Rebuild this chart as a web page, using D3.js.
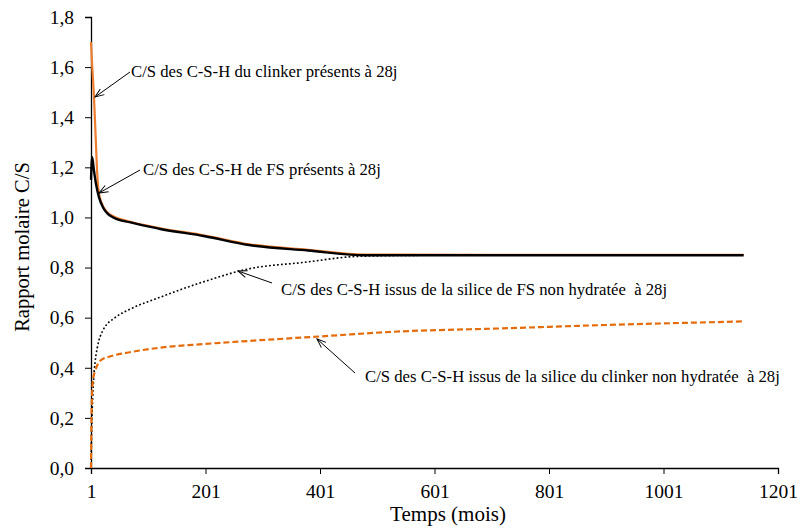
<!DOCTYPE html>
<html>
<head>
<meta charset="utf-8">
<script src="https://cdn.jsdelivr.net/npm/d3@7"></script>
</head>
<body style="margin:0;background:#fff">
<svg id="chart" width="800" height="529" style="display:block"></svg>
<script>
// ---------- data ----------
const xTicks = [1, 201, 401, 601, 801, 1001, 1201];
const yTicks = [0, 0.2, 0.4, 0.6, 0.8, 1.0, 1.2, 1.4, 1.6, 1.8];

// C/S des C-S-H du clinker présents à 28j (orange solid)
const clinkerMonths = [1, 3, 6, 9, 12, 15, 22, 30, 40, 70, 120, 200, 277, 380, 480, 700, 1000, 1141];
const clinkerCS     = [1.70, 1.61, 1.49, 1.33, 1.17, 1.095, 1.045, 1.02, 1.005, 0.983, 0.958, 0.928, 0.893, 0.871, 0.852, 0.851, 0.851, 0.851];

// C/S des C-S-H de FS présents à 28j (black solid)
const fsMonths = [1, 3, 6, 10, 15, 22, 30, 40, 70, 120, 200, 277, 380, 480, 700, 1000, 1141];
const fsCS     = [1.15, 1.24, 1.19, 1.13, 1.08, 1.04, 1.015, 1.0, 0.98, 0.955, 0.925, 0.89, 0.868, 0.849, 0.849, 0.849, 0.849];

// C/S des C-S-H issus de la silice de FS non hydratée à 28j (black dotted)
const fsSilMonths = [1, 2, 3, 5, 8, 12, 22, 43, 70, 120, 200, 277, 370, 471, 600, 800, 1000, 1141];
const fsSilCS     = [0, 0.14, 0.22, 0.33, 0.42, 0.48, 0.55, 0.60, 0.635, 0.68, 0.745, 0.795, 0.82, 0.845, 0.849, 0.849, 0.849, 0.849];

// C/S des C-S-H issus de la silice du clinker non hydratée à 28j (orange dashed)
const clkSilMonths = [1, 2, 3, 5, 8, 12, 18, 34, 64, 121, 200, 296, 400, 541, 716, 890, 1141];
const clkSilCS     = [0, 0.22, 0.30, 0.36, 0.385, 0.41, 0.43, 0.445, 0.46, 0.48, 0.495, 0.51, 0.525, 0.545, 0.557, 0.57, 0.585];

const annotations = [
  "C/S des C-S-H du clinker présents à 28j",
  "C/S des C-S-H de FS présents à 28j",
  "C/S des C-S-H issus de la silice de FS non hydratée  à 28j",
  "C/S des C-S-H issus de la silice du clinker non hydratée  à 28j"
];

// ---------- layout ----------
const FONT = '"Liberation Serif"';
const svg = d3.select("#chart");
const plotL = 91, plotR = 778, plotT = 17, plotB = 468;
const x = d3.scaleLinear().domain([1, 1201]).range([plotL, plotR]);
const y = d3.scaleLinear().domain([0, 1.8]).range([plotB, plotT]);
const fmt = v => d3.format(".1f")(v).replace(".", ",");

// axes
const xAxis = svg.append("g").attr("transform", `translate(0,${plotB})`)
  .call(d3.axisBottom(x).tickValues(xTicks).tickSize(6).tickPadding(10).tickFormat(d3.format("d")));
const yAxis = svg.append("g").attr("transform", `translate(${plotL},0)`)
  .call(d3.axisLeft(y).tickValues(yTicks).tickSize(6).tickPadding(11).tickFormat(fmt));
[xAxis, yAxis].forEach(g => {
  g.attr("font-family", null).attr("font-size", null);
  g.select(".domain").attr("stroke", "#000").attr("stroke-width", 1.3);
  g.selectAll(".tick line").attr("stroke", "#000").attr("stroke-width", 1);
  g.selectAll(".tick text").style("font-family", FONT).style("font-size", "19.5px").attr("fill", "#000");
});

// titles
svg.append("text").attr("x", 448).attr("y", 521).attr("text-anchor", "middle")
  .style("font-family", FONT).style("font-size", "21px").text("Temps (mois)");
svg.append("text").attr("transform", "translate(29,247) rotate(-90)").attr("text-anchor", "middle")
  .style("font-family", FONT).style("font-size", "20.5px").text("Rapport molaire C/S");

// lines
const lineGen = d3.line().x(d => x(d[0])).y(d => y(d[1])).curve(d3.curveMonotoneX);
const zip = (a, b) => a.map((m, i) => [m, b[i]]);

svg.append("path").datum(zip(clinkerMonths, clinkerCS)).attr("d", lineGen)
  .attr("fill", "none").attr("stroke", "#ED7D31").attr("stroke-width", 2.2);
svg.append("path").datum(zip(fsMonths, fsCS)).attr("d", lineGen)
  .attr("fill", "none").attr("stroke", "#000").attr("stroke-width", 2.4);
svg.append("path").datum(zip(fsSilMonths, fsSilCS)).attr("d", lineGen)
  .attr("fill", "none").attr("stroke", "#000").attr("stroke-width", 1.6).attr("stroke-dasharray", "1.8,2.2");
svg.append("path").datum(zip(clkSilMonths, clkSilCS)).attr("d", lineGen)
  .attr("fill", "none").attr("stroke", "#E46C0A").attr("stroke-width", 2.2).attr("stroke-dasharray", "6,3");

// arrow marker (open head)
svg.append("defs").append("marker").attr("id", "arr")
  .attr("viewBox", "-10 -5 12 10").attr("refX", 0).attr("refY", 0)
  .attr("markerWidth", 12).attr("markerHeight", 10).attr("markerUnits", "userSpaceOnUse")
  .attr("orient", "auto")
  .append("path").attr("d", "M-9,-3.5 L0,0 L-9,3.5").attr("fill", "none").attr("stroke", "#000").attr("stroke-width", 1);

const arrows = [
  { x1: 130, y1: 72, x2: 95, y2: 97 },
  { x1: 140, y1: 170, x2: 99, y2: 193 },
  { x1: 272, y1: 283, x2: 238, y2: 271 },
  { x1: 355, y1: 373, x2: 317, y2: 339 }
];
const labelPos = [
  { x: 131, y: 77 },
  { x: 143, y: 175 },
  { x: 281, y: 295 },
  { x: 365, y: 382 }
];
arrows.forEach(a => {
  svg.append("line").attr("x1", a.x1).attr("y1", a.y1).attr("x2", a.x2).attr("y2", a.y2)
    .attr("stroke", "#000").attr("stroke-width", 1).attr("marker-end", "url(#arr)");
});
annotations.forEach((t, i) => {
  svg.append("text").attr("x", labelPos[i].x).attr("y", labelPos[i].y)
    .style("font-family", FONT).style("font-size", "16.7px").style("white-space", "pre").text(t);
});
</script>
</body>
</html>
